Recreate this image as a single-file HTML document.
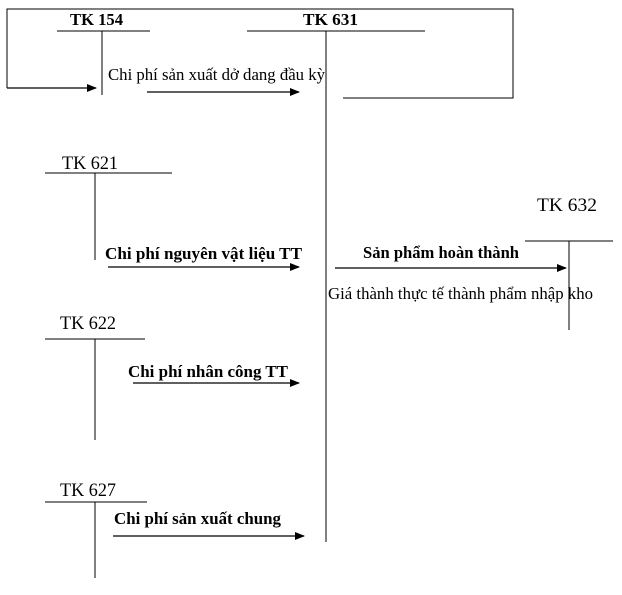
<!DOCTYPE html>
<html><head><meta charset="utf-8"><style>
html,body{margin:0;padding:0;background:#fff;}
svg{display:block;font-family:"Liberation Serif",serif;}
</style></head><body>
<svg width="622" height="595" viewBox="0 0 622 595" xmlns="http://www.w3.org/2000/svg">
<defs><marker id="a" markerWidth="10" markerHeight="8" refX="9" refY="4" orient="auto" markerUnits="userSpaceOnUse"><path d="M0,0 L10,4 L0,8 Z" fill="#000"/></marker></defs>
<g stroke="#000" stroke-width="1" fill="none" shape-rendering="crispEdges">
<polyline points="7,88 7,9 513,9 513,98 343,98"/>
<line x1="57" y1="31" x2="150" y2="31"/><line x1="102" y1="31" x2="102" y2="95"/>
<line x1="247" y1="31" x2="425" y2="31"/><line x1="326" y1="31" x2="326" y2="542"/>
<line x1="45" y1="173" x2="172" y2="173"/><line x1="95" y1="173" x2="95" y2="260"/>
<line x1="525" y1="241" x2="613" y2="241"/><line x1="569" y1="241" x2="569" y2="330"/>
<line x1="45" y1="339" x2="145" y2="339"/><line x1="95" y1="339" x2="95" y2="440"/>
<line x1="45" y1="502" x2="147" y2="502"/><line x1="95" y1="502" x2="95" y2="578"/>
</g>
<g stroke="#000" stroke-width="1.3" marker-end="url(#a)">
<line x1="7" y1="88" x2="96" y2="88"/>
<line x1="147" y1="92" x2="299" y2="92"/>
<line x1="108" y1="267" x2="299" y2="267"/>
<line x1="335" y1="268" x2="566" y2="268"/>
<line x1="133" y1="383" x2="299" y2="383"/>
<line x1="113" y1="536" x2="304" y2="536"/>
</g>
<g fill="#000" font-size="19" lengthAdjust="spacingAndGlyphs">
<text x="70" y="25" font-size="17" font-weight="bold" textLength="53" lengthAdjust="spacingAndGlyphs">TK 154</text>
<text x="303" y="25" font-size="17" font-weight="bold" textLength="55" lengthAdjust="spacingAndGlyphs">TK 631</text>
<text x="62" y="169" textLength="56" lengthAdjust="spacingAndGlyphs">TK 621</text>
<text x="537" y="211" textLength="60" lengthAdjust="spacingAndGlyphs">TK 632</text>
<text x="60" y="329" textLength="56" lengthAdjust="spacingAndGlyphs">TK 622</text>
<text x="60" y="496" textLength="56" lengthAdjust="spacingAndGlyphs">TK 627</text>
</g>
<g fill="#000" font-size="16.5">
<text x="108" y="80" textLength="217" lengthAdjust="spacingAndGlyphs">Chi phí sản xuất dở dang đầu kỳ</text>
<text x="328" y="299" textLength="265" lengthAdjust="spacingAndGlyphs">Giá thành thực tế thành phẩm nhập kho</text>
</g>
<g fill="#000" font-size="16.5" font-weight="bold">
<text x="105" y="259" textLength="197" lengthAdjust="spacingAndGlyphs">Chi phí nguyên vật liệu TT</text>
<text x="363" y="258" textLength="156" lengthAdjust="spacingAndGlyphs">Sản phẩm hoàn thành</text>
<text x="128" y="377" textLength="160" lengthAdjust="spacingAndGlyphs">Chi phí nhân công TT</text>
<text x="114" y="524" textLength="167" lengthAdjust="spacingAndGlyphs">Chi phí sản xuất chung</text>
</g>
</svg>
</body></html>
